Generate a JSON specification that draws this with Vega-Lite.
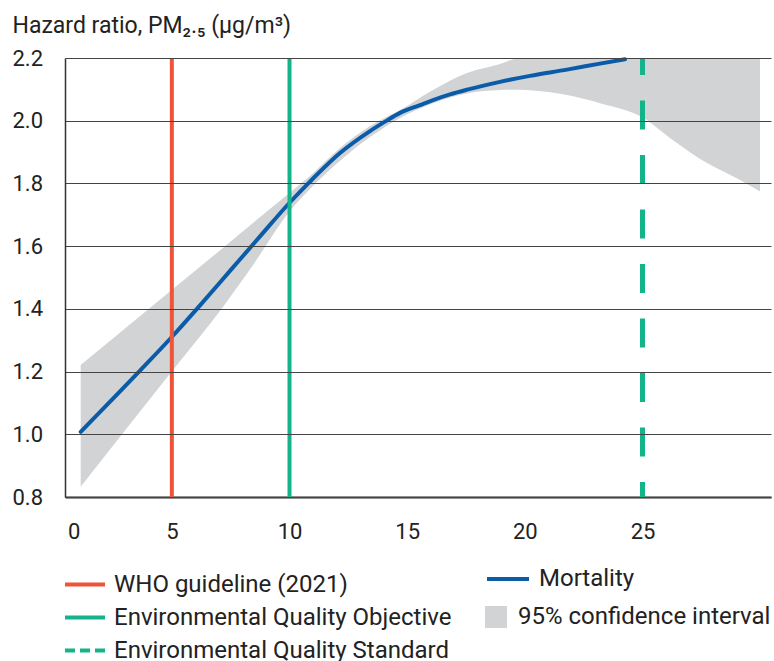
{
  "$schema": "https://vega.github.io/schema/vega-lite/v6.json",
  "width": 706,
  "height": 439,
  "autosize": {"type": "none"},
  "padding": {"left": 65, "top": 58, "right": 3, "bottom": 164},
  "background": "white",
  "config": {
    "view": {"stroke": null},
    "font": "Roboto",
    "legend": {
      "labelFont": "Roboto",
      "labelFontSize": 24,
      "labelColor": "#222222",
      "labelOffset": 9,
      "labelLimit": 0,
      "rowPadding": 12,
      "padding": 0,
      "titlePadding": 0
    }
  },
  "datasets": {
    "ci": [
      {"x": 1.127, "lo": 0.833, "hi": 1.221, "band": "95% confidence interval"},
      {"x": 4.994, "lo": 1.2, "hi": 1.46, "band": "95% confidence interval"},
      {"x": 7.259, "lo": 1.415, "hi": 1.6, "band": "95% confidence interval"},
      {"x": 8.449, "lo": 1.54, "hi": 1.674, "band": "95% confidence interval"},
      {"x": 10.051, "lo": 1.715, "hi": 1.773, "band": "95% confidence interval"},
      {"x": 10.871, "lo": 1.782, "hi": 1.824, "band": "95% confidence interval"},
      {"x": 12.146, "lo": 1.872, "hi": 1.913, "band": "95% confidence interval"},
      {"x": 13.421, "lo": 1.948, "hi": 1.983, "band": "95% confidence interval"},
      {"x": 14.696, "lo": 2.009, "hi": 2.034, "band": "95% confidence interval"},
      {"x": 16.098, "lo": 2.056, "hi": 2.098, "band": "95% confidence interval"},
      {"x": 17.543, "lo": 2.087, "hi": 2.152, "band": "95% confidence interval"},
      {"x": 18.945, "lo": 2.098, "hi": 2.181, "band": "95% confidence interval"},
      {"x": 19.795, "lo": 2.099, "hi": 2.2, "band": "95% confidence interval"},
      {"x": 20.347, "lo": 2.096, "hi": 2.2, "band": "95% confidence interval"},
      {"x": 21.792, "lo": 2.082, "hi": 2.2, "band": "95% confidence interval"},
      {"x": 23.194, "lo": 2.056, "hi": 2.2, "band": "95% confidence interval"},
      {"x": 25.043, "lo": 2.009, "hi": 2.2, "band": "95% confidence interval"},
      {"x": 26.296, "lo": 1.938, "hi": 2.2, "band": "95% confidence interval"},
      {"x": 27.741, "lo": 1.865, "hi": 2.2, "band": "95% confidence interval"},
      {"x": 29.144, "lo": 1.811, "hi": 2.2, "band": "95% confidence interval"},
      {"x": 29.994, "lo": 1.774, "hi": 2.2, "band": "95% confidence interval"}
    ],
    "mortality": [
      {"x": 1.127, "y": 1.008, "series": "Mortality"},
      {"x": 3.647, "y": 1.203, "series": "Mortality"},
      {"x": 5.007, "y": 1.311, "series": "Mortality"},
      {"x": 6.197, "y": 1.411, "series": "Mortality"},
      {"x": 7.471, "y": 1.521, "series": "Mortality"},
      {"x": 8.746, "y": 1.631, "series": "Mortality"},
      {"x": 10.021, "y": 1.74, "series": "Mortality"},
      {"x": 10.871, "y": 1.806, "series": "Mortality"},
      {"x": 12.146, "y": 1.897, "series": "Mortality"},
      {"x": 13.421, "y": 1.967, "series": "Mortality"},
      {"x": 14.059, "y": 1.997, "series": "Mortality"},
      {"x": 14.696, "y": 2.025, "series": "Mortality"},
      {"x": 15.546, "y": 2.05, "series": "Mortality"},
      {"x": 16.098, "y": 2.066, "series": "Mortality"},
      {"x": 16.821, "y": 2.084, "series": "Mortality"},
      {"x": 17.543, "y": 2.099, "series": "Mortality"},
      {"x": 18.945, "y": 2.124, "series": "Mortality"},
      {"x": 20.22, "y": 2.143, "series": "Mortality"},
      {"x": 21.792, "y": 2.163, "series": "Mortality"},
      {"x": 23.194, "y": 2.182, "series": "Mortality"},
      {"x": 24.256, "y": 2.196, "series": "Mortality"}
    ],
    "guides": [
      {"x": 5, "guide": "WHO guideline (2021)"},
      {"x": 10, "guide": "Environmental Quality Objective"},
      {"x": 25, "guide": "Environmental Quality Standard"}
    ]
  },
  "layer": [
    {
      "data": {"name": "ci"},
      "mark": {"type": "area", "interpolate": "monotone", "opacity": 1},
      "encoding": {
        "x": {
          "field": "x", "type": "quantitative",
          "scale": {"domain": [0.46, 30.46], "nice": false, "zero": false},
          "axis": {
            "values": [0.83, 5, 10, 15, 20, 25],
            "labelExpr": "datum.value < 1 ? '0' : format(datum.value, 'd')",
            "grid": false, "ticks": false,
            "domainColor": "#222222", "domainWidth": 2,
            "labelFont": "Roboto", "labelFontSize": 22, "labelColor": "#222222",
            "labelPadding": 24, "labelFlush": false, "labelOverlap": false,
            "title": null
          }
        },
        "y": {
          "field": "lo", "type": "quantitative",
          "scale": {"domain": [0.8, 2.2], "nice": false, "zero": false},
          "axis": {
            "values": [0.8, 1.0, 1.2, 1.4, 1.6, 1.8, 2.0, 2.2],
            "format": ".1f",
            "grid": true, "gridColor": "#444444", "gridWidth": 1,
            "ticks": false,
            "domainColor": "#333333", "domainWidth": 1.5,
            "labelFont": "Roboto", "labelFontSize": 22, "labelColor": "#222222",
            "labelAlign": "left", "labelBaseline": "middle", "labelPadding": 53,
            "labelOverlap": false, "labelFlush": false,
            "title": "Hazard ratio, PM₂.₅ (µg/m³)",
            "titleFont": "Roboto", "titleFontSize": 23, "titleFontWeight": "normal",
            "titleColor": "#222222", "titleAngle": 0, "titleAlign": "left",
            "titleBaseline": "alphabetic", "titleX": -53, "titleY": -26,
            "zindex": 1
          }
        },
        "y2": {"field": "hi"},
        "fill": {
          "field": "band", "type": "nominal",
          "scale": {"range": ["#d1d3d5"]},
          "legend": {
            "title": null, "orient": "none", "legendX": 419, "legendY": 547,
            "symbolType": "square", "symbolSize": 484, "symbolStrokeWidth": 0,
            "labelOffset": 10
          }
        }
      }
    },
    {
      "data": {"name": "mortality"},
      "mark": {"type": "line", "interpolate": "monotone", "strokeWidth": 4, "strokeCap": "round"},
      "encoding": {
        "x": {"field": "x", "type": "quantitative"},
        "y": {"field": "y", "type": "quantitative"},
        "stroke": {
          "field": "series", "type": "nominal",
          "scale": {"range": ["#0b5ca8"]},
          "legend": {
            "title": null, "orient": "none", "legendX": 420, "legendY": 498,
            "symbolType": "stroke", "symbolSize": 1764, "symbolStrokeWidth": 4,
            "labelOffset": 8
          }
        }
      }
    },
    {
      "data": {"name": "guides"},
      "mark": {"type": "rule", "strokeDashOffset": 12},
      "encoding": {
        "x": {"field": "x", "type": "quantitative"},
        "stroke": {
          "condition": {"test": "datum.guide === 'WHO guideline (2021)'", "value": "#ef5438"},
          "value": "#14b48a"
        },
        "strokeDash": {
          "condition": {"test": "datum.guide === 'Environmental Quality Standard'", "value": [29, 25.5]},
          "value": [1, 0]
        },
        "strokeWidth": {
          "condition": {"test": "datum.guide === 'Environmental Quality Standard'", "value": 5},
          "value": 4
        }
      }
    },
    {
      "data": {"name": "guides"},
      "mark": {"type": "rule", "strokeWidth": 0},
      "encoding": {
        "x": {"field": "x", "type": "quantitative"},
        "stroke": {
          "field": "guide", "type": "nominal",
          "scale": {
            "domain": ["WHO guideline (2021)", "Environmental Quality Objective", "Environmental Quality Standard"],
            "range": ["#ef5438", "#14b48a", "#14b48a"]
          },
          "legend": {
            "title": null, "orient": "none", "legendX": 8, "legendY": 514.5,
            "symbolType": "M-2,0H2", "symbolSize": 400, "symbolStrokeWidth": 4,
            "rowPadding": 9, "labelOffset": 17
          }
        },
        "strokeDash": {
          "field": "guide", "type": "nominal",
          "scale": {
            "domain": ["WHO guideline (2021)", "Environmental Quality Objective", "Environmental Quality Standard"],
            "range": [[1, 0], [1, 0], [10, 5]]
          },
          "legend": {
            "title": null, "orient": "none", "legendX": 8, "legendY": 514.5,
            "symbolType": "M-2,0H2", "symbolSize": 400, "symbolStrokeWidth": 4,
            "rowPadding": 9, "labelOffset": 17
          }
        }
      }
    }
  ],
  "resolve": {"scale": {"stroke": "independent", "strokeDash": "independent"}}
}
